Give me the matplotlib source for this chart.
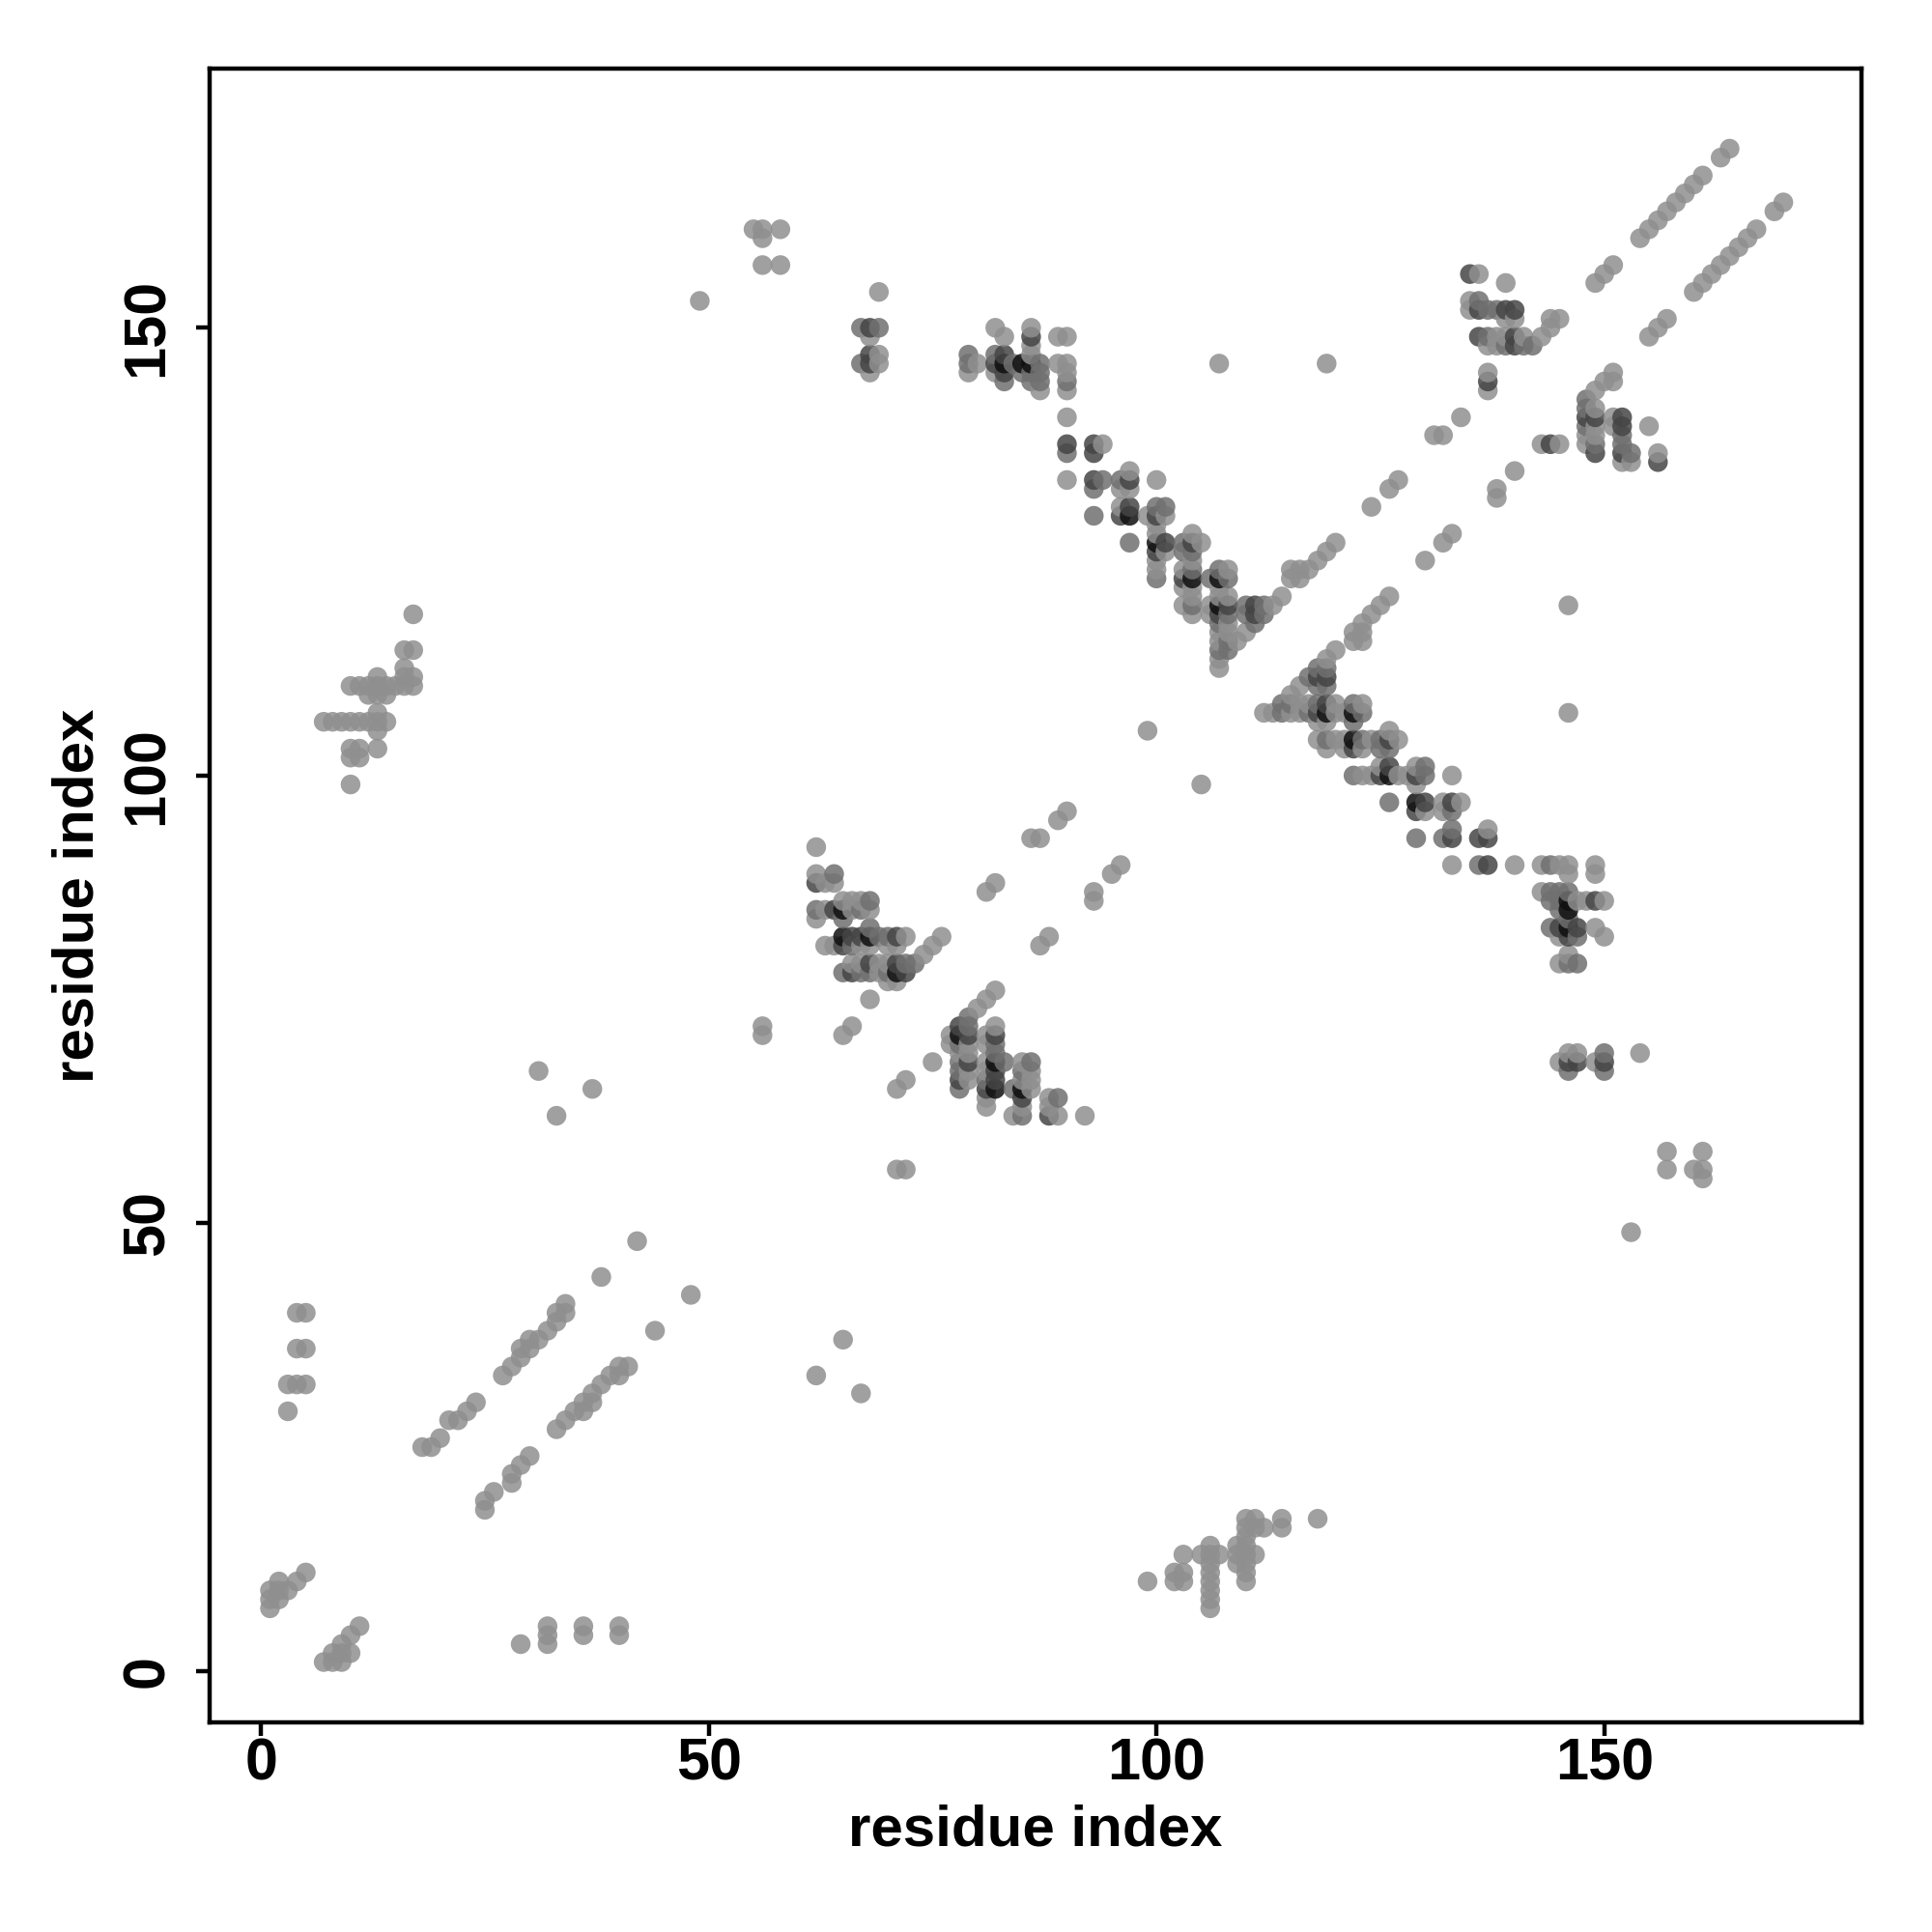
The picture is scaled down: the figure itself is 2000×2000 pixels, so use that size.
import matplotlib
matplotlib.use('Agg')
import matplotlib.pyplot as plt
import numpy as np

plt.rcParams['font.family'] = ['Liberation Sans', 'DejaVu Sans']

light = [
    (7, 1), (8, 1), (9, 1), (8, 2), (9, 2), (10, 2), (9, 3), (10, 4), (11, 5),
    (25, 18), (25, 19), (26, 20), (28, 21), (28, 22), (29, 23), (30, 24),
    (33, 27), (34, 28), (35, 29), (36, 29), (36, 30), (37, 30), (37, 31),
    (38, 32), (39, 33), (40, 33), (40, 34), (41, 34), (44, 38), (48, 42),
    (29, 3), (32, 3), (32, 4), (32, 5), (36, 4), (36, 5), (40, 4), (40, 5),
    (99, 10), (102, 10), (102, 11), (103, 10), (103, 11), (103, 13), (105, 13),
    (106, 7), (106, 8), (106, 9), (106, 10), (106, 11), (106, 12), (106, 13), (106, 14),
    (107, 13), (109, 12), (109, 13), (109, 14),
    (110, 10), (110, 11), (110, 12), (110, 13), (110, 14), (110, 15), (110, 16), (110, 17),
    (111, 13), (111, 16), (111, 17), (112, 16), (114, 16), (114, 17), (118, 17),
    (153, 49), (157, 56), (157, 58), (160, 56), (161, 55), (161, 56), (161, 58),
    (62, 33), (65, 37), (67, 31), (105, 99), (146, 107), (146, 119),
    (71, 56), (72, 56), (71, 65), (72, 66), (75, 68), (87, 81), (88, 82),
    (93, 86), (93, 87), (95, 89), (96, 90), (80, 74), (81, 75), (82, 76),
    (130, 124), (132, 126), (133, 127), (138, 131), (138, 132), (140, 134),
    (143, 137), (145, 137), (122, 115), (122, 116), (123, 115), (123, 116),
    (123, 117), (124, 118), (125, 119), (126, 120),
    (155, 149), (156, 150), (157, 151), (160, 154), (161, 155), (162, 156),
    (163, 157), (164, 158), (165, 159), (166, 160), (167, 161), (169, 163), (170, 164),
    (77, 70), (77, 71), (78, 69), (79, 70), (79, 69), (79, 67), (79, 66),
    (81, 71), (81, 70), (81, 68), (81, 67), (81, 64), (81, 63), (82, 72),
    (84, 62), (85, 68), (85, 66), (85, 63), (86, 67), (86, 66), (86, 65),
    (88, 64), (88, 63), (89, 62), (92, 62),
    (119, 113), (120, 114), (116, 110), (115, 109), (116, 108), (117, 108),
    (120, 108), (123, 108), (112, 107), (113, 107), (115, 107), (116, 107),
    (120, 107), (121, 107), (118, 106), (119, 106), (126, 105),
    (118, 104), (120, 104), (121, 104), (124, 104), (127, 104),
    (119, 103), (121, 103), (123, 103), (125, 101), (129, 101),
    (123, 100), (124, 100), (127, 100), (128, 100), (133, 100), (129, 99),
    (132, 97), (134, 97), (130, 96), (132, 96), (137, 94),
    (133, 90), (140, 90), (143, 90), (145, 90), (146, 90), (149, 90),
    (143, 87), (147, 86), (148, 86), (150, 86), (149, 83), (145, 82), (150, 82),
    (146, 80), (145, 79), (146, 89), (149, 89),
    (145, 68), (149, 68), (146, 69), (147, 69), (154, 69),
    (148, 138), (148, 137), (149, 143), (149, 141), (149, 139), (149, 138),
    (150, 144), (151, 144), (151, 145), (151, 140), (151, 139), (152, 135),
    (153, 135), (155, 139), (156, 136),
]
mid = [
    (79, 73), (78, 70), (78, 68), (78, 67), (78, 65), (79, 72), (81, 66), (82, 70), (82, 69),
    (83, 68), (84, 65), (85, 67), (85, 62), (86, 68), (89, 64),
    (118, 112), (119, 112), (117, 111), (118, 110), (119, 110),
    (114, 108), (115, 108), (118, 108), (122, 108), (114, 107), (117, 107), (123, 107),
    (122, 106), (119, 104), (123, 104), (125, 104), (125, 103), (126, 103),
    (130, 101), (122, 100), (130, 100), (126, 97), (133, 96), (133, 94),
    (129, 93), (132, 93), (136, 90), (144, 90),
    (144, 87), (145, 87), (146, 87), (144, 86), (145, 86), (145, 85), (146, 84),
    (144, 83), (147, 82), (146, 79), (147, 79), (150, 69), (146, 67), (150, 67),
    (148, 142), (148, 141), (148, 139), (149, 137),
    (152, 138), (152, 137), (153, 136),
]
dark = [
    (78, 72), (78, 66), (79, 71), (79, 68), (81, 65), (82, 71), (82, 67), (82, 66), (85, 64), (88, 62),
    (118, 111), (119, 111), (119, 108), (118, 107), (126, 104), (122, 103),
    (126, 101), (125, 100), (129, 100), (130, 97), (133, 97), (129, 96),
    (133, 93), (136, 93), (137, 93), (137, 90),
    (149, 86), (145, 83), (147, 83), (146, 82),
    (146, 68), (147, 68), (150, 68), (144, 137),
    (148, 140), (149, 140), (149, 136), (152, 140), (152, 139), (152, 136), (156, 135),
]
black = [
    (78, 71), (82, 68), (82, 65), (85, 65), (119, 107), (122, 107), (122, 104),
    (126, 100), (129, 97), (146, 86), (146, 85), (146, 83),
]

tick_vals = [0, 50, 100, 150]

GRAYS = [0.56, 0.44, 0.27, 0.06]
ALPHA = 0.85

# mirror every contact, keep draw order: right over left, upper over lower
pts = []
for level, group in enumerate([light, mid, dark, black]):
    for i, j in group:
        pts.append((i, j, GRAYS[level]))
        pts.append((j, i, GRAYS[level]))
pts.sort(key=lambda p: (p[0], p[1]))
pts = np.array(pts)

fig = plt.figure(figsize=(10, 10), dpi=200)
ax = fig.add_axes([0.1084, 0.1084, 0.8552, 0.8559])

cols = [(g, g, g, ALPHA) for g in pts[:, 2]]
ax.scatter(pts[:, 0], pts[:, 1], s=54, c=cols, linewidths=0, zorder=3)

ax.set_xlim(-5.76, 178.75)
ax.set_ylim(-5.76, 178.9)
ax.set_xticks(tick_vals)
ax.set_yticks(tick_vals)
ax.tick_params(axis='both', length=5, width=1.6, labelsize=22)
ax.tick_params(axis='x', pad=0.5)
ax.tick_params(axis='y', pad=7.5)
for lab in ax.get_xticklabels():
    lab.set_fontweight('bold')
for lab in ax.get_yticklabels():
    lab.set_fontweight('bold')
    lab.set_rotation(90)
    lab.set_rotation_mode('anchor')
    lab.set_ha('center')
    lab.set_va('bottom')
for sp in ax.spines.values():
    sp.set_linewidth(1.6)

ax.set_xlabel('residue index', fontsize=21.6, fontweight='bold', labelpad=4.5)
ax.set_ylabel('residue index', fontsize=21.6, fontweight='bold', labelpad=6)

fig.savefig('out.png', dpi=200)
